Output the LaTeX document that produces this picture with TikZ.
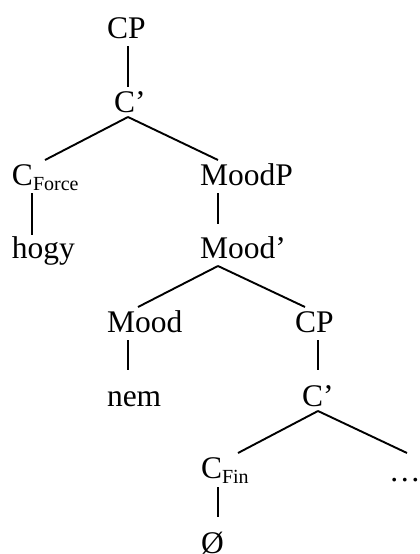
\documentclass[tikz,border=0pt]{standalone}
\usepackage{fontspec}
\setmainfont{Liberation Serif}
\newcommand{\subtxt}[1]{\raisebox{-5pt}{\fontsize{20}{20}\selectfont #1}}
\begin{document}
\begin{tikzpicture}[x=1pt,y=-1pt,
  lbl/.style={anchor=base west,inner sep=0pt,outer sep=0pt,font=\fontsize{31.5}{31.5}\selectfont},
  edge/.style={line width=1.9pt}]
\useasboundingbox (0,0) rectangle (420,554);
% nodes
\node[lbl] (cpa) at (107,38) {CP};
\node[lbl] (cba) at (114,112) {C’};
\node[lbl] (cforce) at (12,185) {C\subtxt{Force}};
\node[lbl] (moodp) at (200,185) {MoodP};
\node[lbl] (hogy) at (12,258) {hogy};
\node[lbl] (moodb) at (200,258) {Mood’};
\node[lbl] (mood) at (107,332) {Mood};
\node[lbl] (cpb) at (295,332) {CP};
\node[lbl] (nem) at (107,406) {nem};
\node[lbl] (cbb) at (302,406) {C’};
\node[lbl] (cfin) at (201,478) {C\subtxt{Fin}};
\node[lbl] (dots) at (389,481) {…};
\node[lbl] (empty) at (201,553) {Ø};
% connector end points
\coordinate (cpa-d) at (128,46);
\coordinate (cba-u) at (128,87);
\coordinate (cba-d) at (128,117);
\coordinate (cforce-u) at (45,160);
\coordinate (moodp-u) at (218,160);
\coordinate (cforce-d) at (32,193);
\coordinate (hogy-u) at (32,235);
\coordinate (moodp-d) at (218,193);
\coordinate (moodb-u) at (218,224);
\coordinate (moodb-d) at (218,266);
\coordinate (mood-u) at (138,307);
\coordinate (cpb-u) at (305,307);
\coordinate (mood-d) at (128,340);
\coordinate (nem-u) at (128,370);
\coordinate (cpb-d) at (318,340);
\coordinate (cbb-u) at (318,370);
\coordinate (cbb-d) at (318,411);
\coordinate (cfin-u) at (238,453);
\coordinate (dots-u) at (407,453);
\coordinate (cfin-d) at (218,487);
\coordinate (empty-u) at (218,517);
% connectors
\draw[edge] (cpa-d) -- (cba-u);
\draw[edge] (cba-d) -- (cforce-u);
\draw[edge] (cba-d) -- (moodp-u);
\draw[edge] (cforce-d) -- (hogy-u);
\draw[edge] (moodp-d) -- (moodb-u);
\draw[edge] (moodb-d) -- (mood-u);
\draw[edge] (moodb-d) -- (cpb-u);
\draw[edge] (mood-d) -- (nem-u);
\draw[edge] (cpb-d) -- (cbb-u);
\draw[edge] (cbb-d) -- (cfin-u);
\draw[edge] (cbb-d) -- (dots-u);
\draw[edge] (cfin-d) -- (empty-u);
\end{tikzpicture}
\end{document}
